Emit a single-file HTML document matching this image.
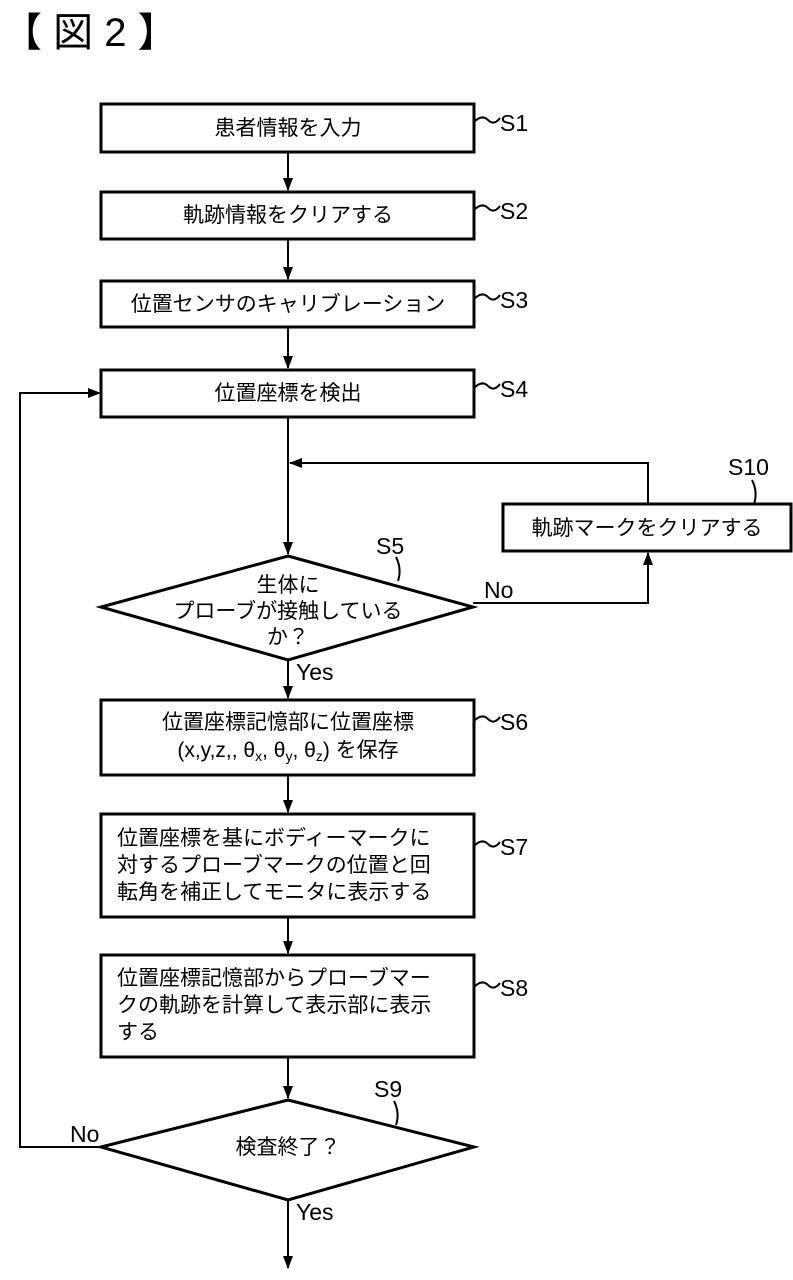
<!DOCTYPE html>
<html><head><meta charset="utf-8"><style>
html,body{margin:0;padding:0;background:#fff}
svg{display:block}
text{font-family:"Liberation Sans","Noto Sans CJK JP",sans-serif;fill:#000}
.b{fill:#fff;stroke:#000;stroke-width:3}
.l{stroke:#000;stroke-width:2;fill:none}
.t{font-size:21px;text-anchor:middle}
.s{font-size:23px}
.p{font-size:21px}
</style></head><body>
<svg width="793" height="1280" viewBox="0 0 793 1280" xmlns="http://www.w3.org/2000/svg">
<text x="2" y="46" style="font-size:40px">【 図 2 】</text>
<g class="l">
<line x1="288" y1="152" x2="288" y2="190"/>
<line x1="288" y1="239" x2="288" y2="279"/>
<line x1="288" y1="327" x2="288" y2="368"/>
<line x1="288" y1="417" x2="288" y2="554"/>
<line x1="288" y1="660" x2="288" y2="698"/>
<line x1="288" y1="775" x2="288" y2="812"/>
<line x1="288" y1="917" x2="288" y2="953"/>
<line x1="288" y1="1057" x2="288" y2="1098"/>
<line x1="288" y1="1200" x2="288" y2="1268"/>
<polyline points="473,603 648,603 648,553"/>
<polyline points="648,504 648,463 290,463"/>
<polyline points="101,1147 20,1147 20,393 99,393"/>
</g>
<g fill="#000">
<path d="M283,178 L293,178 L288,191 Z"/>
<path d="M283,267 L293,267 L288,280 Z"/>
<path d="M283,356 L293,356 L288,369 Z"/>
<path d="M283,542 L293,542 L288,555 Z"/>
<path d="M283,686 L293,686 L288,699 Z"/>
<path d="M283,800 L293,800 L288,813 Z"/>
<path d="M283,941 L293,941 L288,954 Z"/>
<path d="M283,1086 L293,1086 L288,1099 Z"/>
<path d="M283,1256 L293,1256 L288,1269 Z"/>
<path d="M643,565 L653,565 L648,552 Z"/>
<path d="M302,458 L302,468 L289,463 Z"/>
<path d="M88,388 L88,398 L101,393 Z"/>
</g>
<rect class="b" x="101" y="104" width="373" height="48"/>
<rect class="b" x="101" y="192" width="373" height="47"/>
<rect class="b" x="101" y="281" width="373" height="46"/>
<rect class="b" x="101" y="370" width="373" height="47"/>
<rect class="b" x="503" y="504" width="288" height="47"/>
<rect class="b" x="101" y="700" width="373" height="75"/>
<rect class="b" x="101" y="814" width="373" height="103"/>
<rect class="b" x="101" y="955" width="373" height="102"/>
<polygon class="b" points="288,556 473,607 288,660 101,607"/>
<polygon class="b" points="288,1100 474,1147 288,1200 101,1147"/>
<text class="t" x="288" y="135">患者情報を入力</text>
<text class="t" x="288" y="222">軌跡情報をクリアする</text>
<text class="t" x="288" y="311">位置センサのキャリブレーション</text>
<text class="t" x="288" y="400">位置座標を検出</text>
<text class="t" x="647" y="535">軌跡マークをクリアする</text>
<text class="t" x="288" y="592">生体に</text>
<text class="t" x="288" y="618">プローブが接触している</text>
<text class="t" x="288" y="644">か？</text>
<text class="t" x="288" y="729">位置座標記憶部に位置座標</text>
<text class="t" x="288" y="757">(x,y,z,, θ<tspan font-size="14" dy="4">x</tspan><tspan dy="-4">, θ</tspan><tspan font-size="14" dy="4">y</tspan><tspan dy="-4">, θ</tspan><tspan font-size="14" dy="4">z</tspan><tspan dy="-4">) を保存</tspan></text>
<text class="p" x="117" y="845">位置座標を基にボディーマークに</text>
<text class="p" x="117" y="872">対するプローブマークの位置と回</text>
<text class="p" x="117" y="899">転角を補正してモニタに表示する</text>
<text class="p" x="117" y="985">位置座標記憶部からプローブマー</text>
<text class="p" x="117" y="1012">クの軌跡を計算して表示部に表示</text>
<text class="p" x="117" y="1039">する</text>
<text class="t" x="288" y="1154">検査終了？</text>
<text class="s" x="296" y="680">Yes</text>
<text class="s" x="296" y="1220">Yes</text>
<text class="s" x="484" y="598">No</text>
<text class="s" x="70" y="1142">No</text>
<g class="l" stroke-width="1.5">
<path d="M474,122 q8,-8 14,-2 q6,6 12,-2"/>
<path d="M474,210 q8,-8 14,-2 q6,6 12,-2"/>
<path d="M474,299 q8,-8 14,-2 q6,6 12,-2"/>
<path d="M474,388 q8,-8 14,-2 q6,6 12,-2"/>
<path d="M474,721 q8,-8 14,-2 q6,6 12,-2"/>
<path d="M474,846 q8,-8 14,-2 q6,6 12,-2"/>
<path d="M474,987 q8,-8 14,-2 q6,6 12,-2"/>
<path d="M398,581 q4,-12 -2,-24"/>
<path d="M754,504 q4,-12 -2,-24"/>
<path d="M396,1125 q4,-12 -2,-24"/>
</g>
<text class="s" x="500" y="131">S1</text>
<text class="s" x="500" y="219">S2</text>
<text class="s" x="500" y="308">S3</text>
<text class="s" x="500" y="397">S4</text>
<text class="s" x="500" y="730">S6</text>
<text class="s" x="500" y="855">S7</text>
<text class="s" x="500" y="996">S8</text>
<text class="s" x="376" y="554">S5</text>
<text class="s" x="728" y="475">S10</text>
<text class="s" x="374" y="1097">S9</text>
</svg>
</body></html>
